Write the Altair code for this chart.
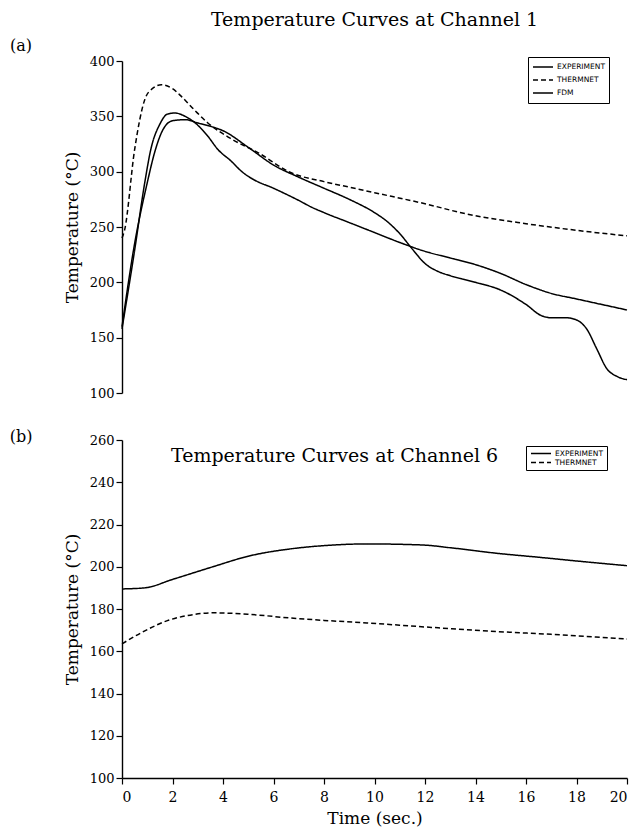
import altair as alt
import pandas as pd

# ---------------- data: panel (a), Channel 1 ----------------
a_exp_t = [0, 0.5, 1.0, 1.3, 1.6, 2.0, 2.5, 3.0, 3.5, 4, 5, 6, 7, 8, 9, 10, 10.5, 11, 11.5, 12,
           12.5, 13, 14, 15, 16, 16.6, 17, 17.6, 18, 18.4, 18.8, 19.2, 19.6, 20]
a_exp_T = [160, 235, 290, 318, 337, 346, 347, 344, 341, 337, 322, 306, 295, 285, 275, 263, 255, 244, 230, 217,
           210, 206, 200, 193, 180, 170, 168, 168, 166, 158, 140, 122, 115, 112]

a_thm_t = [0, 0.1, 0.5, 0.9, 1.2, 1.56, 2.0, 2.35, 2.9, 3.4, 4.3, 5.4, 6.7, 8, 9, 10, 12, 13.6, 16, 18, 20]
a_thm_T = [240, 247, 320, 365, 375, 378.5, 375, 368, 355, 344, 330, 317, 299, 291, 286, 281, 271, 262, 253, 247, 242]

a_fdm_t = [0, 0.5, 0.9, 1.14, 1.5, 1.8, 2.1, 2.5, 3.0, 3.4, 3.8, 4.3, 4.8, 5.2, 6, 7, 7.5, 8, 9, 10, 11,
           12, 13, 14, 15, 16, 17, 18, 19, 20]
a_fdm_T = [158, 229, 290, 320, 343, 352, 353, 350, 342, 332, 320, 310, 299, 293, 285, 274, 268, 263, 254, 245, 236,
           228, 222, 216, 208, 198, 190, 185, 180, 175]

# ---------------- data: panel (b), Channel 6 ----------------
b_exp_t = [0, 0.9, 2, 3.6, 5, 6.7, 8, 9.7, 11.9, 13, 14.9, 16.5, 18.2, 20]
b_exp_T = [189.5, 190, 194, 200, 205, 208.5, 210, 210.8, 210.3, 209, 206.3, 204.5, 202.5, 200.5]

b_thm_t = [0, 0.8, 1.8, 2.8, 3.6, 5, 6.7, 8, 9.7, 12, 14.9, 17, 20]
b_thm_T = [163.5, 169, 174.5, 177.3, 178.2, 177.5, 175.7, 174.6, 173.4, 171.5, 169.3, 168, 165.8]

series_names = ["EXPERIMENT", "THERMNET", "FDM"]
panel_labels = ["(a)", "(b)"]
titles = ["Temperature Curves at Channel 1", "Temperature Curves at Channel 6"]
a_ticks = [100, 150, 200, 250, 300, 350, 400]
b_ticks = [100, 120, 140, 160, 180, 200, 220, 240, 260]
x_ticks = [0, 2, 4, 6, 8, 10, 12, 14, 16, 18, 20]


def frame(pairs):
    rows = []
    for name, ts, vs in pairs:
        for t, v in zip(ts, vs):
            rows.append({"series": name, "t": t, "T": v})
    return pd.DataFrame(rows)


df_a = frame([(series_names[0], a_exp_t, a_exp_T),
              (series_names[1], a_thm_t, a_thm_T),
              (series_names[2], a_fdm_t, a_fdm_T)])
df_b = frame([(series_names[0], b_exp_t, b_exp_T),
              (series_names[1], b_thm_t, b_thm_T)])

SERIF = "DejaVu Serif"
W = 505


def y_axis(vals):
    return alt.Axis(values=vals, title="Temperature (°C)", titleFont=SERIF, titleFontSize=17,
                    titleFontWeight="normal", titleColor="black", titlePadding=8,
                    labelFont=SERIF, labelFontSize=13, labelColor="black", labelPadding=2,
                    tickSize=6, tickColor="black", domainColor="black", grid=False,
                    tickWidth=1.2, domainWidth=1.4)


def legend(x, y, clip, fs):
    return alt.Legend(title=None, orient="none", legendX=x, legendY=y, symbolType="stroke",
                      symbolSize=400, symbolStrokeWidth=1.4, symbolStrokeColor="black",
                      labelFont="DejaVu Sans", labelFontSize=fs, labelColor="black",
                      strokeColor="black", padding=4, clipHeight=clip, rowPadding=1,
                      labelOffset=3)


dash_a = alt.StrokeDash("series:N",
                        scale=alt.Scale(domain=series_names, range=[[1, 0], [5, 3], [1, 0]]),
                        legend=legend(406, -4, 12, 7.5))
dash_b = alt.StrokeDash("series:N",
                        scale=alt.Scale(domain=series_names[:2], range=[[1, 0], [5, 3]]),
                        legend=legend(404, 6, 7, 7.5))

lines_a = alt.Chart(df_a).mark_line(color="black", strokeWidth=1.5, interpolate="monotone").encode(
    x=alt.X("t:Q", scale=alt.Scale(domain=[0, 20], nice=False), axis=None),
    y=alt.Y("T:Q", scale=alt.Scale(domain=[100, 400], nice=False), axis=y_axis(a_ticks)),
    strokeDash=dash_a,
    detail="series:N",
    order=alt.Order("t:Q"),
)

lab_a = alt.Chart(pd.DataFrame({"l": [panel_labels[0]]})).mark_text(
    font=SERIF, fontSize=16, color="black", align="center", baseline="middle").encode(
    text="l:N", x=alt.value(-101), y=alt.value(-15))

top = alt.layer(lines_a, lab_a).properties(
    width=W, height=332,
    title=alt.TitleParams(titles[0], font=SERIF, fontSize=19, fontWeight="normal", color="black",
                          anchor="middle", frame="group", offset=8))

lines_b = alt.Chart(df_b).mark_line(color="black", strokeWidth=1.5, interpolate="monotone").encode(
    x=alt.X("t:Q", scale=alt.Scale(domain=[0, 20], nice=False),
            axis=alt.Axis(values=x_ticks, title="Time (sec.)", titleFont=SERIF, titleFontSize=17,
                          titleFontWeight="normal", titleColor="black", titlePadding=6,
                          labelFont=SERIF, labelFontSize=14, labelColor="black", labelPadding=6,
                          tickSize=6, tickColor="black", domainColor="black", grid=False,
                          tickWidth=1.2, domainWidth=1.4)),
    y=alt.Y("T:Q", scale=alt.Scale(domain=[100, 260], nice=False), axis=y_axis(b_ticks)),
    strokeDash=dash_b,
    detail="series:N",
    order=alt.Order("t:Q"),
)

lab_b = alt.Chart(pd.DataFrame({"l": [panel_labels[1]]})).mark_text(
    font=SERIF, fontSize=16, color="black", align="center", baseline="middle").encode(
    text="l:N", x=alt.value(-101), y=alt.value(-3))

ttl_b = alt.Chart(pd.DataFrame({"l": [titles[1]]})).mark_text(
    font=SERIF, fontSize=19, color="black", align="left", baseline="middle").encode(
    text="l:N", x=alt.value(49), y=alt.value(16))

bottom = alt.layer(lines_b, lab_b, ttl_b).properties(width=W, height=338)

chart = alt.vconcat(top, bottom, spacing=29).resolve_scale(strokeDash="independent").resolve_legend(
    strokeDash="independent").properties(
    padding={"left": 9, "top": 11, "right": 4, "bottom": 4}, background="white").configure_view(stroke=None)

chart.save("out.html", embed_options={"renderer": "svg", "actions": False})
